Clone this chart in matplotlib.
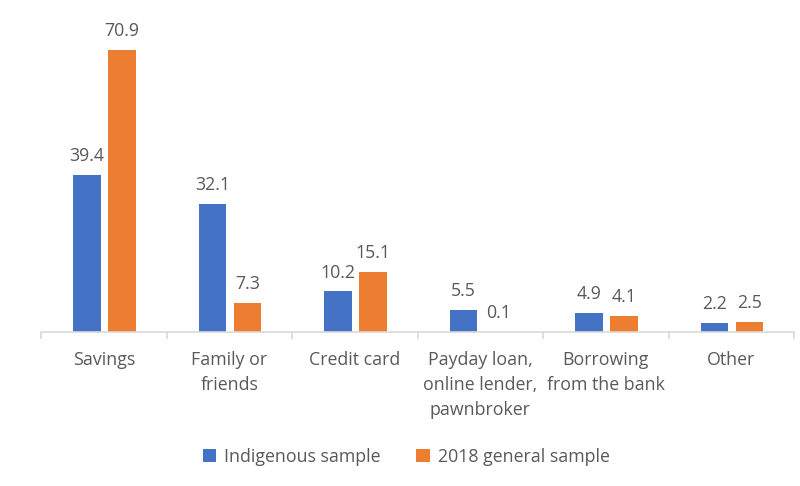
import matplotlib
matplotlib.use("Agg")
import matplotlib.pyplot as plt
import numpy as np

categories = ["Savings", "Family or\nfriends", "Credit card", "Payday loan,\nonline lender,\npawnbroker",
              "Borrowing\nfrom the bank", "Other"]
indigenous = [39.4, 32.1, 10.2, 5.5, 4.9, 2.2]
general = [70.9, 7.3, 15.1, 0.1, 4.1, 2.5]
series_names = ["Indigenous sample", "2018 general sample"]

plt.rcParams['font.family'] = ['Open Sans', 'DejaVu Sans']
txt = '#595959'
blue = '#4472C4'
orange = '#ED7D31'

fig = plt.figure(figsize=(8, 4.86), dpi=100)
ax = fig.add_axes([0.05125, 0.3169, 0.94125, 0.6541])
x = np.arange(len(categories))
w = 0.22
b1 = ax.bar(x - 0.135, indigenous, w, color=blue, label=series_names[0])
b2 = ax.bar(x + 0.145, general, w, color=orange, label=series_names[1])
for bars, vals in ((b1, indigenous), (b2, general)):
    for r, v in zip(bars, vals):
        ax.text(r.get_x() + r.get_width() / 2, v + 2.5, f"{v:.1f}", ha='center', va='bottom',
                fontsize=12.8, color=txt)

ax.set_xlim(-0.5, len(categories) - 0.5)
ax.set_ylim(0, 80)
ax.set_yticks([])
for s in ['left', 'right', 'top']:
    ax.spines[s].set_visible(False)
ax.spines['bottom'].set_color('#d9d9d9')
ax.spines['bottom'].set_linewidth(1.2)
ax.set_xticks(np.arange(len(categories) + 1) - 0.5, minor=True)
ax.set_xticks(x)
ax.set_xticklabels(categories, fontsize=12.8, color=txt, linespacing=1.5, va='top')
ax.tick_params(axis='x', which='major', length=0, pad=14)
ax.tick_params(axis='x', which='minor', length=5, color='#d9d9d9', width=1.2)

fig.legend(handles=[b1, b2], labels=series_names, loc='center', bbox_to_anchor=(0.508, 0.06),
           ncol=2, frameon=False, fontsize=12.8, labelcolor=txt, handlelength=0.75, handleheight=0.75,
           columnspacing=2.0, handletextpad=0.45)

fig.savefig("out.png", dpi=100)
